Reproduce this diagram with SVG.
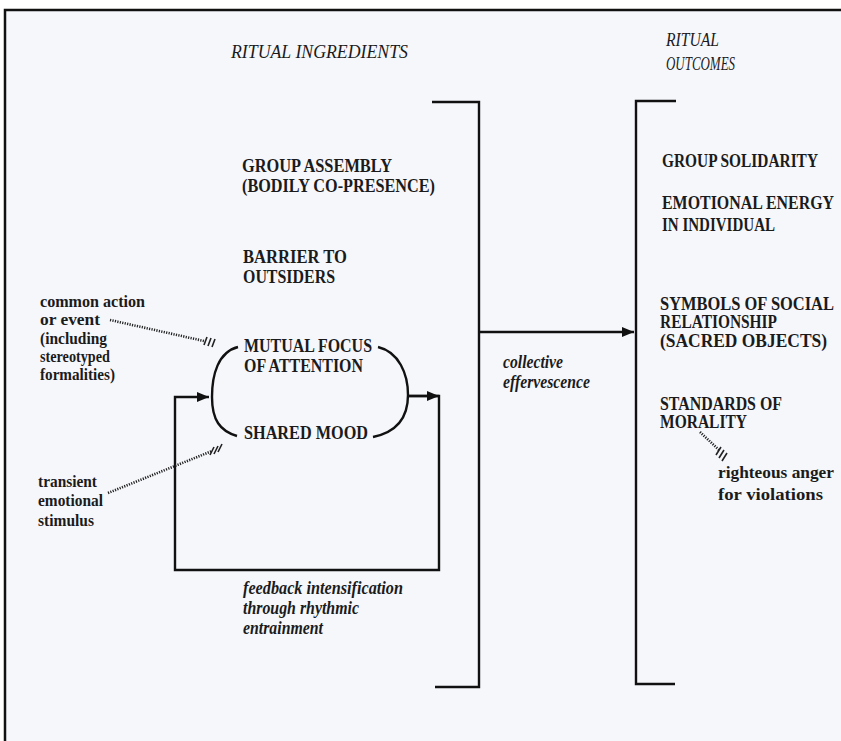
<svg xmlns="http://www.w3.org/2000/svg" width="841" height="741" viewBox="0 0 841 741">
<style>
.b{font-family:"Liberation Serif","Times New Roman",serif;font-weight:bold;font-size:19px;fill:#1b1b1b}
.s{font-family:"Liberation Serif","Times New Roman",serif;font-weight:bold;font-size:17px;fill:#1b1b1b}
.i{font-family:"Liberation Serif","Times New Roman",serif;font-style:italic;font-weight:bold;font-size:18px;fill:#1b1b1b}
.t{font-family:"Liberation Serif","Times New Roman",serif;font-style:italic;font-size:19px;fill:#1b1b1b}
.ln{fill:none;stroke:#111;stroke-width:2.4}
.dot{fill:none;stroke:#222;stroke-width:2.6;stroke-dasharray:1.2 1.3}
.h{stroke:#222;stroke-width:1.6}
</style>
<defs>
<marker id="ah" viewBox="0 0 12 12" refX="12" refY="6" markerWidth="12" markerHeight="12" orient="auto" markerUnits="userSpaceOnUse"><path d="M0,1 L12,6 L0,11 z" fill="#111"/></marker>
</defs>
<rect x="0" y="0" width="841" height="741" fill="#ffffff"/>
<rect x="5" y="10" width="836" height="731" fill="#f6f7fb"/>
<path d="M5,741 V10 H841" fill="none" stroke="#111" stroke-width="2.5"/>

<g id="title-ingredients"><text class="t" x="231" y="58" textLength="177" lengthAdjust="spacingAndGlyphs">RITUAL INGREDIENTS</text></g>
<g id="title-outcomes"><text class="t" x="666" y="46" textLength="53" lengthAdjust="spacingAndGlyphs">RITUAL</text><text class="t" x="666" y="70" textLength="69" lengthAdjust="spacingAndGlyphs">OUTCOMES</text></g>

<g id="bracket-ingredients"><path class="ln" d="M432,102 H479 V687 H435"/></g>
<g id="bracket-outcomes"><path class="ln" d="M676,101 H636 V684 H675"/></g>

<g id="group-assembly"><text class="b" x="242" y="172" textLength="150" lengthAdjust="spacingAndGlyphs">GROUP ASSEMBLY</text><text class="b" x="242" y="192" textLength="193" lengthAdjust="spacingAndGlyphs">(BODILY  CO-PRESENCE)</text></g>
<g id="barrier"><text class="b" x="243" y="263" textLength="104" lengthAdjust="spacingAndGlyphs">BARRIER TO</text><text class="b" x="243" y="283" textLength="92" lengthAdjust="spacingAndGlyphs">OUTSIDERS</text></g>
<g id="mutual-focus"><text class="b" x="244" y="352" textLength="128" lengthAdjust="spacingAndGlyphs">MUTUAL FOCUS</text><text class="b" x="244" y="372" textLength="119" lengthAdjust="spacingAndGlyphs">OF ATTENTION</text></g>
<g id="shared-mood"><text class="b" x="244" y="439" textLength="124" lengthAdjust="spacingAndGlyphs">SHARED  MOOD</text></g>
<g id="parens"><path class="ln" d="M238,347 C218,352 212,375 212,397 C212,420 220,431 237,436"/><path class="ln" d="M378,347 C399,352 408,374 408,395 C408,418 397,432 373,437"/></g>

<g id="common-action"><text class="s" x="40" y="307" textLength="105" lengthAdjust="spacingAndGlyphs">common  action</text><text class="s" x="40" y="325" textLength="60" lengthAdjust="spacingAndGlyphs">or  event</text><text class="s" x="40" y="344" textLength="67" lengthAdjust="spacingAndGlyphs">(including</text><text class="s" x="40" y="362" textLength="70" lengthAdjust="spacingAndGlyphs">stereotyped</text><text class="s" x="40" y="380" textLength="75" lengthAdjust="spacingAndGlyphs">formalities)</text></g>
<g id="transient"><text class="s" x="38" y="487" textLength="59" lengthAdjust="spacingAndGlyphs">transient</text><text class="s" x="38" y="506" textLength="65" lengthAdjust="spacingAndGlyphs">emotional</text><text class="s" x="38" y="526" textLength="56" lengthAdjust="spacingAndGlyphs">stimulus</text></g>

<g id="collective"><text class="i" x="503" y="368" textLength="60" lengthAdjust="spacingAndGlyphs">collective</text><text class="i" x="503" y="388" textLength="87" lengthAdjust="spacingAndGlyphs">effervescence</text></g>
<g id="feedback"><text class="i" x="243" y="594" textLength="160" lengthAdjust="spacingAndGlyphs">feedback  intensification</text><text class="i" x="243" y="614" textLength="116" lengthAdjust="spacingAndGlyphs">through rhythmic</text><text class="i" x="243" y="634" textLength="80" lengthAdjust="spacingAndGlyphs">entrainment</text></g>

<g id="group-solidarity"><text class="b" transform="matrix(0.84,0,0,1,662,167)" x="0" y="0" textLength="185.7" lengthAdjust="spacingAndGlyphs">GROUP SOLIDARITY</text></g>
<g id="emotional-energy"><text class="b" transform="matrix(0.84,0,0,1,662,209)" x="0" y="0" textLength="204.8" lengthAdjust="spacingAndGlyphs">EMOTIONAL ENERGY</text><text class="b" x="662" y="231" textLength="113" lengthAdjust="spacingAndGlyphs">IN INDIVIDUAL</text></g>
<g id="symbols"><text class="b" transform="matrix(0.84,0,0,1,660,310)" x="0" y="0" textLength="207.1" lengthAdjust="spacingAndGlyphs">SYMBOLS  OF  SOCIAL</text><text class="b" x="660" y="328" textLength="117" lengthAdjust="spacingAndGlyphs">RELATIONSHIP</text><text class="b" x="660" y="347" textLength="167" lengthAdjust="spacingAndGlyphs">(SACRED  OBJECTS)</text></g>
<g id="standards"><text class="b" x="660" y="410" textLength="122" lengthAdjust="spacingAndGlyphs">STANDARDS OF</text><text class="b" x="660" y="428" textLength="87" lengthAdjust="spacingAndGlyphs">MORALITY</text></g>
<g id="righteous"><text class="s" x="718" y="478" textLength="116" lengthAdjust="spacingAndGlyphs">righteous  anger</text><text class="s" x="718" y="500" textLength="105" lengthAdjust="spacingAndGlyphs">for  violations</text></g>

<g id="connectors">
<path class="ln" d="M479,332 H634" marker-end="url(#ah)"/>
<path class="ln" d="M408,396 H439 V570 H175 V397 H209" marker-end="url(#ah)"/>
<path class="ln" d="M408,396 H439" marker-end="url(#ah)"/>
<path class="dot" d="M110,320 L204,341"/>
<path class="h" d="M204,345 L207,337 M208,346 L211,338 M212,347 L215,339"/>
<path class="dot" d="M108,493 L212,451"/>
<path class="h" d="M210,455 L214,447 M214,454 L218,446 M218,452 L222,444"/>
<path class="dot" d="M700,432 L719,450"/>
<path class="h" d="M716,455 L721,447 M719,458 L724,450 M722,461 L727,453"/>
</g>
</svg>
